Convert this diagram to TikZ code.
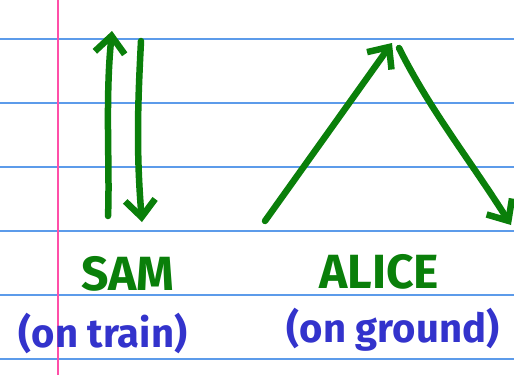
\documentclass[tikz,border=0pt]{standalone}
\usepackage{fontspec}
\setmainfont{Fira Sans}
\usetikzlibrary{arrows.meta}
\definecolor{rulecol}{HTML}{5C9BEA}
\definecolor{margincol}{HTML}{FF4FA8}
\definecolor{ink}{HTML}{0A7F0A}
\definecolor{penblue}{HTML}{3333CC}
\tikzset{
  ruling/.style={rulecol, line width=1.4pt},
  marginline/.style={margincol, line width=2pt},
  stroke/.style={ink, line width=6.5pt, line cap=round, line join=round,
    -{Straight Barb[length=17pt,width=30pt,line width=6.5pt]}},
  whotext/.style={ink, font=\fontsize{48}{48}\selectfont\bfseries},
  wheretext/.style={penblue, font=\fontsize{40}{40}\selectfont\bfseries}
}
\begin{document}
\begin{tikzpicture}[x=1pt,y=-1pt]
  \useasboundingbox (0,0) rectangle (514,375);
  \fill[white] (0,0) rectangle (514,375);
  % ruled paper
  \foreach \yy in {39,103,167,231,295,359}
    \draw[ruling] (0,\yy) -- (514,\yy);
  \draw[marginline] (58,0) -- (58,375);

  % Sam: up and back down
  \coordinate (samA) at (108,216);
  \coordinate (samB) at (112,31);
  \coordinate (samC) at (141,41);
  \coordinate (samD) at (142,222);
  \draw[stroke] (samA) .. controls (110,170) and (105,100) .. (samB);
  \draw[stroke] (samC) .. controls (138,100) and (136,150) .. (samD);

  % Alice: up the slope and down the other side
  \coordinate (alA) at (265,221);
  \coordinate (alB) at (392,43);
  \coordinate (alC) at (399,48);
  \coordinate (alD) at (511,225);
  \draw[stroke] (alA) -- (alB);
  \draw[stroke] (alC) .. controls (430,110) and (470,160) .. (alD);

  % labels
  \node[whotext] (sam) at (128,274) {SAM};
  \node[wheretext] (samwhere) at (103,333) {(on train)};
  \node[whotext] (alice) at (379,272) {ALICE};
  \node[wheretext] (alicewhere) at (393,330) {(on ground)};
\end{tikzpicture}
\end{document}
